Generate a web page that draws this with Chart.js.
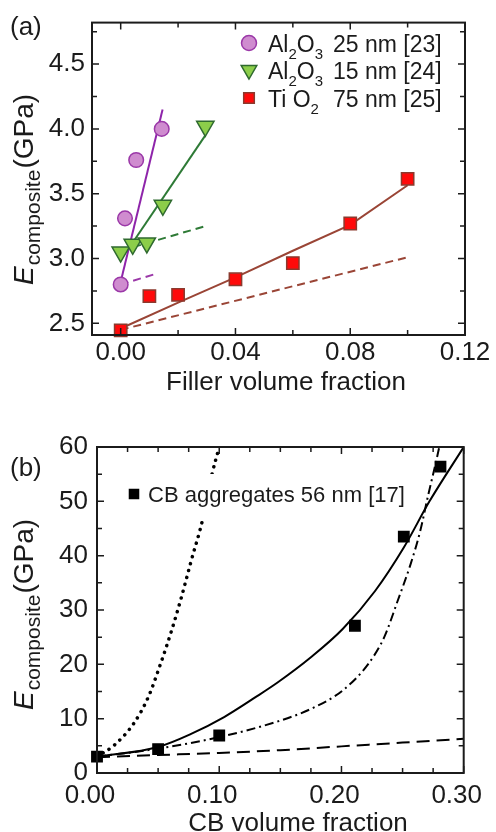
<!DOCTYPE html>
<html>
<head>
<meta charset="utf-8">
<script src="https://cdn.jsdelivr.net/npm/chart.js@4.4.1/dist/chart.umd.min.js"></script>
<style>
  html, body { margin: 0; padding: 0; background: #fff; }
  body { width: 496px; height: 832px; position: relative; overflow: hidden; }
  canvas { position: absolute; left: 0; }
  #chartA { top: 0; }
  #chartB { top: 415px; }
</style>
</head>
<body>
<canvas id="chartA" width="496" height="415"></canvas>
<canvas id="chartB" width="496" height="417"></canvas>
<script>
(function () {
  "use strict";

  // ---- panel (a): modulus vs filler volume fraction ----
  var A_X_TICKS = [0, 0.04, 0.08, 0.12];
  var A_X_MINOR = [0.02, 0.06, 0.10];
  var A_Y_TICKS = [2.5, 3.0, 3.5, 4.0, 4.5];
  var A_Y_MINOR = [2.75, 3.25, 3.75, 4.25, 4.75];

  var AL25_X = [0.0, 0.0015, 0.0054, 0.0143];
  var AL25_Y = [2.80, 3.31, 3.76, 4.00];
  var AL25_FIT_X = [0.0, 0.0146];
  var AL25_FIT_Y = [2.82, 4.15];
  var AL25_LOW_X = [0.0, 0.012];
  var AL25_LOW_Y = [2.80, 2.88];

  var AL15_X = [0.0, 0.0042, 0.0091, 0.0147, 0.0295];
  var AL15_Y = [3.05, 3.11, 3.12, 3.41, 4.02];
  var AL15_FIT_X = [0.0035, 0.0295];
  var AL15_FIT_Y = [3.10, 3.95];
  var AL15_LOW_X = [0.0, 0.0295];
  var AL15_LOW_Y = [3.06, 3.25];

  var TIO2_X = [0.0, 0.01, 0.02, 0.04, 0.06, 0.08, 0.10];
  var TIO2_Y = [2.445, 2.71, 2.72, 2.84, 2.965, 3.27, 3.615];
  var TIO2_FIT_X = [0.0, 0.02, 0.04, 0.06, 0.08, 0.10];
  var TIO2_FIT_Y = [2.46, 2.66, 2.855, 3.06, 3.26, 3.565];
  var TIO2_LOW_X = [0.0, 0.10];
  var TIO2_LOW_Y = [2.45, 3.01];

  var A_LEGEND = [
    { parts: [["Al", 0], ["2", 1], ["O", 0], ["3", 1]], tail: "25 nm [23]" },
    { parts: [["Al", 0], ["2", 1], ["O", 0], ["3", 1]], tail: "15 nm [24]" },
    { parts: [["Ti ", 0], ["O", 0], ["2", 1]], tail: "75 nm [25]" }
  ];

  // ---- panel (b): modulus vs carbon black volume fraction ----
  var B_X_TICKS = [0, 0.10, 0.20, 0.30];
  var B_X_MINOR = [0.025, 0.05, 0.075, 0.125, 0.15, 0.175, 0.225, 0.25, 0.275];
  var B_Y_TICKS = [0, 10, 20, 30, 40, 50, 60];
  var B_Y_MINOR = [5, 15, 25, 35, 45, 55];

  var CB_X = [0.0, 0.05, 0.10, 0.211, 0.251, 0.281];
  var CB_Y = [3.0, 4.4, 6.9, 27.1, 43.5, 56.4];

  var SOLID_X = [0.0, 0.05, 0.077, 0.104, 0.13, 0.148, 0.175, 0.201, 0.2275, 0.251, 0.272, 0.30];
  var SOLID_Y = [3.0, 4.8, 7.2, 10.3, 14.0, 16.7, 21.3, 26.5, 33.5, 41.5, 50.0, 60.0];

  var DASHDOT_X = [0.0, 0.05, 0.10, 0.148, 0.175, 0.201, 0.222, 0.235, 0.246, 0.2565, 0.2644, 0.271, 0.2775, 0.280];
  var DASHDOT_Y = [3.0, 4.5, 6.6, 9.5, 11.8, 15.2, 20.1, 25.0, 31.7, 38.4, 44.5, 51.2, 57.4, 60.0];

  var DOTTED_X = [0.0, 0.014, 0.030, 0.042, 0.052, 0.061, 0.069, 0.077, 0.0865, 0.094, 0.100];
  var DOTTED_Y = [3.0, 5.1, 9.1, 14.0, 20.1, 26.2, 32.3, 39.0, 46.7, 54.9, 60.0];

  var DASHED_X = [0.0, 0.05, 0.10, 0.15, 0.20, 0.25, 0.30];
  var DASHED_Y = [2.9, 3.3, 3.7, 4.2, 4.9, 5.6, 6.3];

  var B_LEGEND = "CB aggregates 56 nm [17]";

  // ---- styling ----
  var FAMILY = "'Liberation Sans', Arial, Helvetica, sans-serif";
  var INK = "#1b1b1b";

  function pts(xs, ys) {
    return xs.map(function (x, i) {
      return { x: x, y: ys[i] };
    });
  }

  function markerSet(xs, ys, style, radius, fill, edge, rotation) {
    return {
      data: pts(xs, ys),
      showLine: false,
      pointStyle: style,
      pointRadius: radius,
      pointRotation: rotation || 0,
      pointBackgroundColor: fill,
      pointBorderColor: edge,
      pointBorderWidth: 1.5,
      backgroundColor: fill,
      borderColor: edge,
      clip: false,
      order: 0
    };
  }

  function lineSet(xs, ys, color, width, dash, smooth, cap) {
    return {
      data: pts(xs, ys),
      showLine: true,
      pointRadius: 0,
      pointHitRadius: 0,
      borderColor: color,
      borderWidth: width,
      borderDash: dash || [],
      borderCapStyle: cap || "butt",
      cubicInterpolationMode: smooth ? "monotone" : "default",
      tension: 0,
      fill: false,
      order: 1
    };
  }

  function fixedTicks(values) {
    return function (scale) {
      scale.ticks = values.map(function (v) {
        return { value: v };
      });
    };
  }

  function axis(min, max, ticks, digits, pad, fitKey, fitValue, offset) {
    return {
      type: "linear",
      min: min,
      max: max,
      afterBuildTicks: fixedTicks(ticks),
      afterFit: function (s) {
        s[fitKey] = fitValue;
      },
      grid: { display: false, drawTicks: false },
      border: { display: false },
      ticks: {
        color: INK,
        font: { family: FAMILY, size: 26 },
        padding: pad,
        labelOffset: offset || 0,
        autoSkip: false,
        maxRotation: 0,
        callback: function (v) {
          return digits < 0 ? String(v) : Number(v).toFixed(digits);
        }
      }
    };
  }

  function drawFrame(chart, cfg) {
    var ctx = chart.ctx;
    var a = chart.chartArea;
    var sx = chart.scales.x;
    var sy = chart.scales.y;
    ctx.save();
    ctx.strokeStyle = INK;
    ctx.lineWidth = 1.5;
    ctx.beginPath();
    function xt(list, len) {
      list.forEach(function (v) {
        var p = sx.getPixelForValue(v);
        ctx.moveTo(p, a.bottom);
        ctx.lineTo(p, a.bottom - len);
        ctx.moveTo(p, a.top);
        ctx.lineTo(p, a.top + len);
      });
    }
    function yt(list, len) {
      list.forEach(function (v) {
        var p = sy.getPixelForValue(v);
        ctx.moveTo(a.left, p);
        ctx.lineTo(a.left + len, p);
        ctx.moveTo(a.right, p);
        ctx.lineTo(a.right - len, p);
      });
    }
    xt(cfg.xMajor, 7);
    xt(cfg.xMinor, 5);
    yt(cfg.yMajor, 7);
    yt(cfg.yMinor, 5);
    ctx.stroke();
    ctx.lineWidth = 2;
    ctx.strokeRect(a.left, a.top, a.right - a.left, a.bottom - a.top);
    ctx.restore();
  }

  function drawYTitle(ctx, x, y) {
    ctx.save();
    ctx.translate(x, y);
    ctx.rotate(-Math.PI / 2);
    ctx.fillStyle = INK;
    ctx.textAlign = "left";
    ctx.textBaseline = "alphabetic";
    var cx = 0;
    ctx.font = "italic 28px " + FAMILY;
    ctx.fillText("E", cx, 0);
    cx += ctx.measureText("E").width + 1;
    ctx.font = "21px " + FAMILY;
    ctx.fillText("composite", cx, 7);
    cx += ctx.measureText("composite").width + 1;
    ctx.font = "28px " + FAMILY;
    ctx.fillText("(GPa)", cx, 0);
    ctx.restore();
  }

  function drawMarker(ctx, ds, x, y, radius) {
    ctx.save();
    ctx.fillStyle = ds.pointBackgroundColor;
    ctx.strokeStyle = ds.pointBorderColor;
    ctx.lineWidth = ds.pointBorderWidth;
    Chart.helpers.drawPoint(ctx, {
      pointStyle: ds.pointStyle,
      radius: radius,
      rotation: ds.pointRotation,
      borderWidth: ds.pointBorderWidth
    }, x, y);
    ctx.restore();
  }

  function legendA(chart) {
    var ctx = chart.ctx;
    var rows = [52, 79, 107];
    ctx.save();
    ctx.fillStyle = INK;
    ctx.textBaseline = "alphabetic";
    ctx.textAlign = "left";
    A_LEGEND.forEach(function (item, i) {
      var base = rows[i];
      drawMarker(ctx, chart.data.datasets[i], 249, base - 9, i === 1 ? 9 : 7.5);
      ctx.fillStyle = INK;
      var cx = 268;
      item.parts.forEach(function (p) {
        ctx.font = (p[1] ? "15px " : "23px ") + FAMILY;
        ctx.fillText(p[0], cx, base + (p[1] ? 7 : 0));
        cx += ctx.measureText(p[0]).width;
      });
      ctx.font = "23px " + FAMILY;
      ctx.fillText(item.tail, 333, base);
    });
    ctx.restore();
  }

  function legendB(chart) {
    var ctx = chart.ctx;
    var base = 87;
    ctx.save();
    ctx.font = "22px " + FAMILY;
    var w = ctx.measureText(B_LEGEND).width;
    ctx.fillStyle = "#fff";
    ctx.fillRect(124, base - 28, 148 - 124 + w + 6, 44);
    drawMarker(ctx, chart.data.datasets[0], 134, base - 8, 6.4);
    ctx.fillStyle = INK;
    ctx.textAlign = "left";
    ctx.textBaseline = "alphabetic";
    ctx.fillText(B_LEGEND, 148, base);
    ctx.restore();
  }

  function panelPlugin(cfg) {
    return {
      id: "panel" + cfg.tag,
      afterDatasetsDraw: function (chart) {
        cfg.legend(chart);
      },
      afterDraw: function (chart) {
        var ctx = chart.ctx;
        drawFrame(chart, cfg);
        drawYTitle(ctx, 33, cfg.yTitleStart);
        ctx.save();
        ctx.fillStyle = INK;
        ctx.textBaseline = "alphabetic";
        ctx.textAlign = "center";
        ctx.font = "26px " + FAMILY;
        ctx.fillText(cfg.xTitle, cfg.xTitlePos[0], cfg.xTitlePos[1]);
        ctx.textAlign = "left";
        ctx.fillText(cfg.tag, 10, cfg.tagBase);
        ctx.restore();
      }
    };
  }

  function baseOptions(padding, scales) {
    return {
      responsive: false,
      animation: false,
      devicePixelRatio: 1,
      events: [],
      layout: { padding: padding, autoPadding: false },
      plugins: { legend: { display: false }, tooltip: { enabled: false } },
      scales: scales
    };
  }

  // panel (a)
  new Chart(document.getElementById("chartA").getContext("2d"), {
    type: "scatter",
    data: {
      datasets: [
        markerSet(AL25_X, AL25_Y, "circle", 7.3, "#cf8ccf", "#9b38a8"),
        markerSet(AL15_X, AL15_Y, "triangle", 10, "#8cce4a", "#2f6a2f", 180),
        markerSet(TIO2_X, TIO2_Y, "rect", 8.7, "#ff0a0a", "#8b3a2e"),
        lineSet(AL25_FIT_X, AL25_FIT_Y, "#8e24aa", 2),
        lineSet(AL25_LOW_X, AL25_LOW_Y, "#9b38a8", 2, [8, 5]),
        lineSet(AL15_FIT_X, AL15_FIT_Y, "#2e7a36", 2),
        lineSet(AL15_LOW_X, AL15_LOW_Y, "#2e7a36", 2, [8, 5]),
        lineSet(TIO2_FIT_X, TIO2_FIT_Y, "#9a4536", 2),
        lineSet(TIO2_LOW_X, TIO2_LOW_Y, "#9a4536", 2, [8, 5])
      ]
    },
    options: baseOptions({ top: 10, right: 31, left: 0, bottom: 0 }, {
      x: axis(-0.01, 0.12, A_X_TICKS, 2, 2, "height", 80),
      y: axis(2.41, 4.82, A_Y_TICKS, 1, 7, "width", 92)
    }),
    plugins: [panelPlugin({
      tag: "(a)",
      tagBase: 35,
      xMajor: A_X_TICKS, xMinor: A_X_MINOR,
      yMajor: A_Y_TICKS, yMinor: A_Y_MINOR,
      yTitleStart: 285,
      xTitle: "Filler volume fraction",
      xTitlePos: [286, 390],
      legend: legendA
    })]
  });

  // panel (b)
  new Chart(document.getElementById("chartB").getContext("2d"), {
    type: "scatter",
    data: {
      datasets: [
        markerSet(CB_X, CB_Y, "rect", 7.3, "#000", "#000"),
        lineSet(SOLID_X, SOLID_Y, "#000", 2, [], true),
        lineSet(DASHDOT_X, DASHDOT_Y, "#000", 2, [9, 4, 2, 4], true),
        lineSet(DOTTED_X, DOTTED_Y, "#000", 3.5, [0.1, 7], true, "round"),
        lineSet(DASHED_X, DASHED_Y, "#000", 2, [13, 7], true)
      ]
    },
    options: baseOptions({ top: 32, right: 19, left: 0, bottom: 0 }, {
      x: axis(0, 0.30, B_X_TICKS, 2, 7, "height", 59, -7),
      y: axis(0, 60, B_Y_TICKS, -1, 9, "width", 97)
    }),
    plugins: [panelPlugin({
      tag: "(b)",
      tagBase: 61,
      xMajor: B_X_TICKS, xMinor: B_X_MINOR,
      yMajor: B_Y_TICKS, yMinor: B_Y_MINOR,
      yTitleStart: 295,
      xTitle: "CB volume fraction",
      xTitlePos: [298, 416],
      legend: legendB
    })]
  });
})();
</script>
</body>
</html>
